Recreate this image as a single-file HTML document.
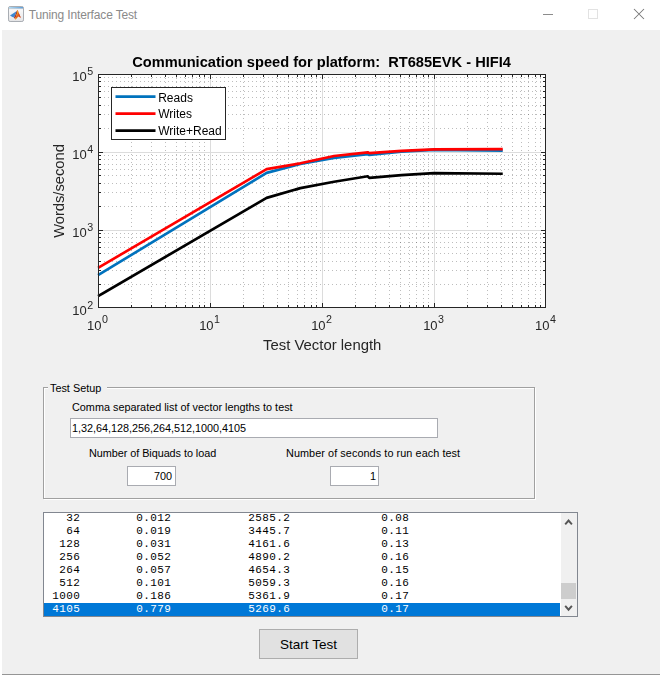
<!DOCTYPE html>
<html><head><meta charset="utf-8"><title>Tuning Interface Test</title>
<style>
html,body{margin:0;padding:0;}
body{width:660px;height:676px;background:#fff;position:relative;overflow:hidden;font-family:"Liberation Sans",sans-serif;}
#client{position:absolute;left:2px;top:30px;width:658px;height:644px;background:#f0f0f0;}
#bottomline{position:absolute;left:2px;top:674px;width:658px;height:1px;background:#959595;}
#title{position:absolute;left:28.8px;top:7.8px;font-size:12px;letter-spacing:-0.15px;color:#8a8a8a;white-space:nowrap;}
svg text{font-family:"Liberation Sans",sans-serif;}
.abs{position:absolute;}
.lbl{position:absolute;font-size:10.85px;color:#000;white-space:nowrap;}
.edit{position:absolute;background:#fff;border:1px solid #a9abb1;box-sizing:border-box;font-size:10.85px;color:#000;white-space:nowrap;}
#list{position:absolute;left:43px;top:512px;width:535px;height:105px;box-sizing:border-box;border:1px solid #828790;background:#fff;overflow:hidden;}
#list .rows{position:absolute;left:0;top:-1px;width:516px;font-family:"Liberation Mono",monospace;font-size:11px;letter-spacing:0.4px;font-weight:normal;color:#000;white-space:pre;line-height:13px;}
#list .rows div{height:13px;padding-left:1.2px;}
#list .rows div.sel{background:#0078d7;color:#fff;}
#sb{position:absolute;right:0;top:0;width:16px;height:103px;background:#f0f0f0;}
#thumb{position:absolute;left:0px;top:70px;width:15px;height:16px;background:#cdcdcd;}
#btn{position:absolute;left:259px;top:629px;width:99px;height:30px;box-sizing:border-box;border:1px solid #adadad;background:#e1e1e1;font-size:13.5px;color:#000;text-align:center;line-height:29px;}
</style></head><body>
<div id="title">Tuning Interface Test</div>
<svg class="abs" style="left:8px;top:6px" width="16" height="16" viewBox="0 0 16 16">
<defs><linearGradient id="gb" x1="0" y1="0" x2="1" y2="0"><stop offset="0" stop-color="#b4dcf4"/><stop offset="1" stop-color="#5f9fd8"/></linearGradient>
<linearGradient id="gf" x1="0" y1="0" x2="0" y2="1"><stop offset="0" stop-color="#ffffff"/><stop offset="1" stop-color="#e4e4e6"/></linearGradient></defs>
<rect x="0.5" y="0.5" width="15" height="15" rx="1.6" fill="url(#gf)" stroke="#a9adb3"/>
<rect x="1" y="1" width="14" height="1.5" fill="url(#gb)"/>
<rect x="0.6" y="2.5" width="14.8" height="0.6" fill="#a9adb3" opacity="0.7"/>
<path d="M2 9.5 L7.7 5.8 L8.6 5.2 L7.4 9 L6 11.5 L4.4 11 Z" fill="#3b87d0"/>
<path d="M8.6 5.2 L9.3 4 L8.9 8 L7 13 L6 11.5 L7.4 9 Z" fill="#a3281c"/>
<path d="M9.3 4 L9.9 4.2 L11 7.5 L12.8 11.8 L11.8 11.3 L10.3 10.6 L9 12 L7.4 13.6 L7 13 L8.9 8 Z" fill="#e2601c"/>
<path d="M11 7.5 L12.8 11.8 L11.6 11 L10.6 8 Z" fill="#cf3a25"/>
<path d="M9.3 4.3 L9.8 5 L9.6 8 L8.6 10 L9 7 Z" fill="#f5b820"/>
<path d="M7 13 L7.8 11.5 L8.6 12.4 L7.4 13.6 Z" fill="#f5a81c"/>
</svg>
<svg class="abs" style="left:520px;top:0" width="140" height="30" viewBox="0 0 140 30">
<line x1="23" y1="14.5" x2="33" y2="14.5" stroke="#8c8c8c" stroke-width="1"/>
<rect x="68.5" y="9.5" width="9" height="9" fill="none" stroke="#e2e2e2" stroke-width="1"/>
<path d="M114 9 L124 19 M124 9 L114 19" stroke="#777" stroke-width="1.05" fill="none"/>
</svg>
<div id="client"></div>
<div id="bottomline"></div>
<!-- panel -->
<div class="abs" style="left:43px;top:387px;width:490px;height:110px;border:1px solid #a0a0a0;box-shadow:1px 1px 0 #fff, inset 1px 1px 0 #fff;"></div>
<div class="lbl" style="left:48px;top:382px;background:#f0f0f0;padding:0 6px 0 2px;">Test Setup</div>
<div class="lbl" style="left:72px;top:401.3px;">Comma separated list of vector lengths to test</div>
<div class="edit" style="left:70px;top:418px;width:368px;height:20px;line-height:18px;padding-left:1px;letter-spacing:-0.03px;">1,32,64,128,256,264,512,1000,4105</div>
<div class="lbl" style="left:89px;top:447.3px;letter-spacing:-0.05px;">Number of Biquads to load</div>
<div class="lbl" style="left:286px;top:447.3px;letter-spacing:0.07px;">Number of seconds to run each test</div>
<div class="edit" style="left:127px;top:466px;width:49px;height:20px;line-height:18px;text-align:right;padding-right:3px;">700</div>
<div class="edit" style="left:330px;top:466px;width:49px;height:20px;line-height:18px;text-align:right;padding-right:2px;">1</div>
<div id="list"><div class="rows"><div>   32        0.012           2585.2             0.08</div><div>   64        0.019           3445.7             0.11</div><div>  128        0.031           4161.6             0.13</div><div>  256        0.052           4890.2             0.16</div><div>  264        0.057           4654.3             0.15</div><div>  512        0.101           5059.3             0.16</div><div> 1000        0.186           5361.9             0.17</div><div class="sel"> 4105        0.779           5269.6             0.17</div></div>
<div id="sb"><div id="thumb"></div>
<svg class="abs" style="left:0;top:0" width="16" height="103" viewBox="0 0 16 103">
<path d="M4.2 11.3 L7.55 7.5 L10.9 11.3" stroke="#555" stroke-width="1.9" fill="none"/>
<path d="M4.2 92.9 L7.55 96.7 L10.9 92.9" stroke="#555" stroke-width="1.9" fill="none"/>
</svg></div></div>
<div id="btn">Start Test</div>
<svg class="abs" style="left:40px;top:40px;will-change:transform" width="580" height="330" viewBox="40 40 580 330">
<rect x="98" y="74" width="448" height="234" fill="#fff"/>
<g stroke="#262626" stroke-opacity="0.3" stroke-width="1" stroke-dasharray="1 3" shape-rendering="crispEdges"><line x1="131.5" y1="74" x2="131.5" y2="308"/><line x1="151.5" y1="74" x2="151.5" y2="308"/><line x1="165.5" y1="74" x2="165.5" y2="308"/><line x1="176.5" y1="74" x2="176.5" y2="308"/><line x1="185.5" y1="74" x2="185.5" y2="308"/><line x1="192.5" y1="74" x2="192.5" y2="308"/><line x1="199.5" y1="74" x2="199.5" y2="308"/><line x1="204.5" y1="74" x2="204.5" y2="308"/><line x1="243.5" y1="74" x2="243.5" y2="308"/><line x1="263.5" y1="74" x2="263.5" y2="308"/><line x1="277.5" y1="74" x2="277.5" y2="308"/><line x1="288.5" y1="74" x2="288.5" y2="308"/><line x1="297.5" y1="74" x2="297.5" y2="308"/><line x1="304.5" y1="74" x2="304.5" y2="308"/><line x1="311.5" y1="74" x2="311.5" y2="308"/><line x1="316.5" y1="74" x2="316.5" y2="308"/><line x1="355.5" y1="74" x2="355.5" y2="308"/><line x1="375.5" y1="74" x2="375.5" y2="308"/><line x1="389.5" y1="74" x2="389.5" y2="308"/><line x1="400.5" y1="74" x2="400.5" y2="308"/><line x1="409.5" y1="74" x2="409.5" y2="308"/><line x1="416.5" y1="74" x2="416.5" y2="308"/><line x1="423.5" y1="74" x2="423.5" y2="308"/><line x1="428.5" y1="74" x2="428.5" y2="308"/><line x1="467.5" y1="74" x2="467.5" y2="308"/><line x1="487.5" y1="74" x2="487.5" y2="308"/><line x1="501.5" y1="74" x2="501.5" y2="308"/><line x1="512.5" y1="74" x2="512.5" y2="308"/><line x1="521.5" y1="74" x2="521.5" y2="308"/><line x1="528.5" y1="74" x2="528.5" y2="308"/><line x1="535.5" y1="74" x2="535.5" y2="308"/><line x1="540.5" y1="74" x2="540.5" y2="308"/><line x1="100" y1="284.5" x2="546" y2="284.5"/><line x1="100" y1="270.5" x2="546" y2="270.5"/><line x1="100" y1="261.5" x2="546" y2="261.5"/><line x1="100" y1="253.5" x2="546" y2="253.5"/><line x1="100" y1="247.5" x2="546" y2="247.5"/><line x1="100" y1="242.5" x2="546" y2="242.5"/><line x1="100" y1="237.5" x2="546" y2="237.5"/><line x1="100" y1="233.5" x2="546" y2="233.5"/><line x1="100" y1="206.5" x2="546" y2="206.5"/><line x1="100" y1="192.5" x2="546" y2="192.5"/><line x1="100" y1="183.5" x2="546" y2="183.5"/><line x1="100" y1="175.5" x2="546" y2="175.5"/><line x1="100" y1="169.5" x2="546" y2="169.5"/><line x1="100" y1="164.5" x2="546" y2="164.5"/><line x1="100" y1="159.5" x2="546" y2="159.5"/><line x1="100" y1="155.5" x2="546" y2="155.5"/><line x1="100" y1="128.5" x2="546" y2="128.5"/><line x1="100" y1="114.5" x2="546" y2="114.5"/><line x1="100" y1="105.5" x2="546" y2="105.5"/><line x1="100" y1="97.5" x2="546" y2="97.5"/><line x1="100" y1="91.5" x2="546" y2="91.5"/><line x1="100" y1="86.5" x2="546" y2="86.5"/><line x1="100" y1="81.5" x2="546" y2="81.5"/><line x1="100" y1="77.5" x2="546" y2="77.5"/></g>
<g stroke="#dcdcdc" stroke-width="1" shape-rendering="crispEdges"><line x1="210.5" y1="74" x2="210.5" y2="308"/><line x1="322.5" y1="74" x2="322.5" y2="308"/><line x1="434.5" y1="74" x2="434.5" y2="308"/><line x1="98" y1="230.5" x2="546" y2="230.5"/><line x1="98" y1="152.5" x2="546" y2="152.5"/></g>
<polyline points="98.05,275.10 266.63,172.90 300.34,164.00 334.06,158.00 367.77,154.10 369.27,155.00 401.49,151.60 434.05,149.80 502.74,150.70" fill="none" stroke="#0072BD" stroke-width="2.7" stroke-linejoin="round" stroke-linecap="butt"/>
<polyline points="98.05,267.90 266.63,169.20 300.34,163.30 334.06,156.00 367.77,152.30 369.27,153.10 401.49,150.90 434.05,149.30 502.74,149.20" fill="none" stroke="#FF0000" stroke-width="2.7" stroke-linejoin="round" stroke-linecap="butt"/>
<polyline points="98.05,296.20 266.63,197.88 300.34,188.14 334.06,181.75 367.77,176.28 369.27,177.96 401.49,175.13 434.05,173.16 502.74,173.75" fill="none" stroke="#000000" stroke-width="2.7" stroke-linejoin="round" stroke-linecap="butt"/>
<g stroke="#262626" stroke-width="1" shape-rendering="crispEdges"><line x1="98.5" y1="308" x2="98.5" y2="303"/><line x1="98.5" y1="74" x2="98.5" y2="79"/><line x1="131.5" y1="308" x2="131.5" y2="305"/><line x1="131.5" y1="74" x2="131.5" y2="77"/><line x1="151.5" y1="308" x2="151.5" y2="305"/><line x1="151.5" y1="74" x2="151.5" y2="77"/><line x1="165.5" y1="308" x2="165.5" y2="305"/><line x1="165.5" y1="74" x2="165.5" y2="77"/><line x1="176.5" y1="308" x2="176.5" y2="305"/><line x1="176.5" y1="74" x2="176.5" y2="77"/><line x1="185.5" y1="308" x2="185.5" y2="305"/><line x1="185.5" y1="74" x2="185.5" y2="77"/><line x1="192.5" y1="308" x2="192.5" y2="305"/><line x1="192.5" y1="74" x2="192.5" y2="77"/><line x1="199.5" y1="308" x2="199.5" y2="305"/><line x1="199.5" y1="74" x2="199.5" y2="77"/><line x1="204.5" y1="308" x2="204.5" y2="305"/><line x1="204.5" y1="74" x2="204.5" y2="77"/><line x1="210.5" y1="308" x2="210.5" y2="303"/><line x1="210.5" y1="74" x2="210.5" y2="79"/><line x1="243.5" y1="308" x2="243.5" y2="305"/><line x1="243.5" y1="74" x2="243.5" y2="77"/><line x1="263.5" y1="308" x2="263.5" y2="305"/><line x1="263.5" y1="74" x2="263.5" y2="77"/><line x1="277.5" y1="308" x2="277.5" y2="305"/><line x1="277.5" y1="74" x2="277.5" y2="77"/><line x1="288.5" y1="308" x2="288.5" y2="305"/><line x1="288.5" y1="74" x2="288.5" y2="77"/><line x1="297.5" y1="308" x2="297.5" y2="305"/><line x1="297.5" y1="74" x2="297.5" y2="77"/><line x1="304.5" y1="308" x2="304.5" y2="305"/><line x1="304.5" y1="74" x2="304.5" y2="77"/><line x1="311.5" y1="308" x2="311.5" y2="305"/><line x1="311.5" y1="74" x2="311.5" y2="77"/><line x1="316.5" y1="308" x2="316.5" y2="305"/><line x1="316.5" y1="74" x2="316.5" y2="77"/><line x1="322.5" y1="308" x2="322.5" y2="303"/><line x1="322.5" y1="74" x2="322.5" y2="79"/><line x1="355.5" y1="308" x2="355.5" y2="305"/><line x1="355.5" y1="74" x2="355.5" y2="77"/><line x1="375.5" y1="308" x2="375.5" y2="305"/><line x1="375.5" y1="74" x2="375.5" y2="77"/><line x1="389.5" y1="308" x2="389.5" y2="305"/><line x1="389.5" y1="74" x2="389.5" y2="77"/><line x1="400.5" y1="308" x2="400.5" y2="305"/><line x1="400.5" y1="74" x2="400.5" y2="77"/><line x1="409.5" y1="308" x2="409.5" y2="305"/><line x1="409.5" y1="74" x2="409.5" y2="77"/><line x1="416.5" y1="308" x2="416.5" y2="305"/><line x1="416.5" y1="74" x2="416.5" y2="77"/><line x1="423.5" y1="308" x2="423.5" y2="305"/><line x1="423.5" y1="74" x2="423.5" y2="77"/><line x1="428.5" y1="308" x2="428.5" y2="305"/><line x1="428.5" y1="74" x2="428.5" y2="77"/><line x1="434.5" y1="308" x2="434.5" y2="303"/><line x1="434.5" y1="74" x2="434.5" y2="79"/><line x1="467.5" y1="308" x2="467.5" y2="305"/><line x1="467.5" y1="74" x2="467.5" y2="77"/><line x1="487.5" y1="308" x2="487.5" y2="305"/><line x1="487.5" y1="74" x2="487.5" y2="77"/><line x1="501.5" y1="308" x2="501.5" y2="305"/><line x1="501.5" y1="74" x2="501.5" y2="77"/><line x1="512.5" y1="308" x2="512.5" y2="305"/><line x1="512.5" y1="74" x2="512.5" y2="77"/><line x1="521.5" y1="308" x2="521.5" y2="305"/><line x1="521.5" y1="74" x2="521.5" y2="77"/><line x1="528.5" y1="308" x2="528.5" y2="305"/><line x1="528.5" y1="74" x2="528.5" y2="77"/><line x1="535.5" y1="308" x2="535.5" y2="305"/><line x1="535.5" y1="74" x2="535.5" y2="77"/><line x1="540.5" y1="308" x2="540.5" y2="305"/><line x1="540.5" y1="74" x2="540.5" y2="77"/><line x1="98" y1="307.5" x2="103" y2="307.5"/><line x1="546" y1="307.5" x2="541" y2="307.5"/><line x1="98" y1="284.5" x2="101" y2="284.5"/><line x1="546" y1="284.5" x2="543" y2="284.5"/><line x1="98" y1="270.5" x2="101" y2="270.5"/><line x1="546" y1="270.5" x2="543" y2="270.5"/><line x1="98" y1="261.5" x2="101" y2="261.5"/><line x1="546" y1="261.5" x2="543" y2="261.5"/><line x1="98" y1="253.5" x2="101" y2="253.5"/><line x1="546" y1="253.5" x2="543" y2="253.5"/><line x1="98" y1="247.5" x2="101" y2="247.5"/><line x1="546" y1="247.5" x2="543" y2="247.5"/><line x1="98" y1="242.5" x2="101" y2="242.5"/><line x1="546" y1="242.5" x2="543" y2="242.5"/><line x1="98" y1="237.5" x2="101" y2="237.5"/><line x1="546" y1="237.5" x2="543" y2="237.5"/><line x1="98" y1="233.5" x2="101" y2="233.5"/><line x1="546" y1="233.5" x2="543" y2="233.5"/><line x1="98" y1="230.5" x2="103" y2="230.5"/><line x1="546" y1="230.5" x2="541" y2="230.5"/><line x1="98" y1="206.5" x2="101" y2="206.5"/><line x1="546" y1="206.5" x2="543" y2="206.5"/><line x1="98" y1="192.5" x2="101" y2="192.5"/><line x1="546" y1="192.5" x2="543" y2="192.5"/><line x1="98" y1="183.5" x2="101" y2="183.5"/><line x1="546" y1="183.5" x2="543" y2="183.5"/><line x1="98" y1="175.5" x2="101" y2="175.5"/><line x1="546" y1="175.5" x2="543" y2="175.5"/><line x1="98" y1="169.5" x2="101" y2="169.5"/><line x1="546" y1="169.5" x2="543" y2="169.5"/><line x1="98" y1="164.5" x2="101" y2="164.5"/><line x1="546" y1="164.5" x2="543" y2="164.5"/><line x1="98" y1="159.5" x2="101" y2="159.5"/><line x1="546" y1="159.5" x2="543" y2="159.5"/><line x1="98" y1="155.5" x2="101" y2="155.5"/><line x1="546" y1="155.5" x2="543" y2="155.5"/><line x1="98" y1="152.5" x2="103" y2="152.5"/><line x1="546" y1="152.5" x2="541" y2="152.5"/><line x1="98" y1="128.5" x2="101" y2="128.5"/><line x1="546" y1="128.5" x2="543" y2="128.5"/><line x1="98" y1="114.5" x2="101" y2="114.5"/><line x1="546" y1="114.5" x2="543" y2="114.5"/><line x1="98" y1="105.5" x2="101" y2="105.5"/><line x1="546" y1="105.5" x2="543" y2="105.5"/><line x1="98" y1="97.5" x2="101" y2="97.5"/><line x1="546" y1="97.5" x2="543" y2="97.5"/><line x1="98" y1="91.5" x2="101" y2="91.5"/><line x1="546" y1="91.5" x2="543" y2="91.5"/><line x1="98" y1="86.5" x2="101" y2="86.5"/><line x1="546" y1="86.5" x2="543" y2="86.5"/><line x1="98" y1="81.5" x2="101" y2="81.5"/><line x1="546" y1="81.5" x2="543" y2="81.5"/><line x1="98" y1="77.5" x2="101" y2="77.5"/><line x1="546" y1="77.5" x2="543" y2="77.5"/></g>
<rect x="98.5" y="74.5" width="447.0" height="233.0" fill="none" stroke="#262626" stroke-width="1" shape-rendering="crispEdges"/>
<rect x="111.5" y="87.5" width="114" height="52" fill="#fff" stroke="#262626" stroke-width="1" shape-rendering="crispEdges"/>
<line x1="115.5" y1="96.7" x2="155.5" y2="96.7" stroke="#0072BD" stroke-width="2.7"/>
<text x="158.2" y="101.8" font-size="12" fill="#000">Reads</text>
<line x1="115.5" y1="113.7" x2="155.5" y2="113.7" stroke="#FF0000" stroke-width="2.7"/>
<text x="158.2" y="117.8" font-size="12" fill="#000">Writes</text>
<line x1="115.5" y1="130.7" x2="155.5" y2="130.7" stroke="#000" stroke-width="2.7"/>
<text x="158.2" y="134.6" font-size="12" fill="#000">Write+Read</text>
<text x="101.5" y="330.3" font-size="13.0" fill="#262626" text-anchor="end">10</text>
<text x="102.0" y="323" font-size="10.7" fill="#262626">0</text>
<text x="213.6" y="330.3" font-size="13.0" fill="#262626" text-anchor="end">10</text>
<text x="214.1" y="323" font-size="10.7" fill="#262626">1</text>
<text x="325.6" y="330.3" font-size="13.0" fill="#262626" text-anchor="end">10</text>
<text x="326.1" y="323" font-size="10.7" fill="#262626">2</text>
<text x="437.6" y="330.3" font-size="13.0" fill="#262626" text-anchor="end">10</text>
<text x="438.1" y="323" font-size="10.7" fill="#262626">3</text>
<text x="549.5" y="330.3" font-size="13.0" fill="#262626" text-anchor="end">10</text>
<text x="550.0" y="323" font-size="10.7" fill="#262626">4</text>
<text x="86.7" y="314.9" font-size="13.0" fill="#262626" text-anchor="end">10</text>
<text x="87.3" y="308.9" font-size="10.7" fill="#262626">2</text>
<text x="86.7" y="237.0" font-size="13.0" fill="#262626" text-anchor="end">10</text>
<text x="87.3" y="231.0" font-size="10.7" fill="#262626">3</text>
<text x="86.7" y="159.0" font-size="13.0" fill="#262626" text-anchor="end">10</text>
<text x="87.3" y="153.0" font-size="10.7" fill="#262626">4</text>
<text x="86.7" y="81.0" font-size="13.0" fill="#262626" text-anchor="end">10</text>
<text x="87.3" y="75.0" font-size="10.7" fill="#262626">5</text>
<text x="322.2" y="349.5" font-size="14.9" fill="#262626" text-anchor="middle">Test Vector length</text>
<text transform="translate(64,191) rotate(-90)" font-size="14.7" fill="#262626" text-anchor="middle">Words/second</text>
<text x="321.6" y="67" font-size="14.63" font-weight="bold" fill="#000" text-anchor="middle" xml:space="preserve">Communication speed for platform:  RT685EVK - HIFI4</text>
</svg>
</body></html>
